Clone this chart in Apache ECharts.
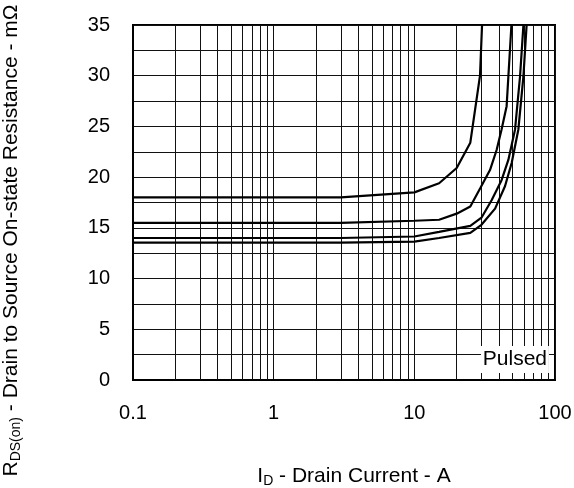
<!DOCTYPE html>
<html>
<head>
<meta charset="utf-8">
<script src="https://cdn.jsdelivr.net/npm/echarts@6/dist/echarts.min.js"></script>
<style>
html,body{margin:0;padding:0;background:#fff;}
#chart{width:574px;height:488px;}
</style>
</head>
<body>
<div id="chart"></div>
<script>
// Drain current (A) vs on-resistance (mΩ), four gate-voltage curves (top to bottom)
var curveA = [[0.1,18.0],[3,18.0],[10,18.5],[15,19.4],[20,20.9],[25,23.4],[29.3,30.0],[30.5,36]];
var curveB = [[0.1,15.5],[3,15.5],[10,15.7],[15,15.8],[20,16.4],[25,17.1],[29.4,18.9],[34.5,20.7],[38.5,22.7],[41.7,24.7],[45.3,27.0],[46.6,29.9],[49.5,36]];
var curveC = [[0.1,14.0],[3,14.0],[10,14.15],[15,14.6],[25,15.2],[30,16.0],[35.5,17.75],[41.7,19.7],[46.6,21.7],[52,24.7],[56.4,29.9],[60.3,36]];
var curveD = [[0.1,13.55],[3,13.55],[10,13.65],[15,14.0],[25,14.5],[30,15.3],[37.5,16.9],[44.1,19.1],[49.2,21.4],[54.9,24.7],[59.6,29.9],[63.5,36]];

// axis ranges and grid values
var xRange = [0.1, 100];
var yRange = [0, 35];
var yStep = 5;
var xMinorGrid = [0.2,0.3,0.4,0.5,0.6,0.7,0.8,0.9, 2,3,4,5,6,7,8,9, 20,30,40,50,60,70,80,90];

// annotation
var noteText = 'Pulsed';
var notePos = [51.9, 2.02];

var xTitle = '{a|I}{s|D}{a| - Drain Current - A}';
var yTitle = '{a|R}{s|DS(on)}{a| - Drain to Source On-state Resistance - m\u03A9}';

var FONT = '"Liberation Sans", Arial, Helvetica, sans-serif';
var richT = {
  a: {fontSize: 21, fontFamily: FONT, color: '#000', lineHeight: 24},
  s: {fontSize: 14, fontFamily: FONT, color: '#000', verticalAlign: 'bottom'}
};

function curveSeries(d) {
  return {
    type: 'line', data: d, showSymbol: false, symbol: 'none', z: 3,
    lineStyle: {color: '#000', width: 2.2}, silent: true, clip: true
  };
}

var chart = echarts.init(document.getElementById('chart'), null, {renderer: 'canvas'});
chart.setOption({
  animation: false,
  backgroundColor: '#fff',
  textStyle: {fontFamily: FONT},
  grid: {left: 133, right: 19, top: 25, bottom: 108, show: true, borderColor: '#000', borderWidth: 2,
    backgroundColor: 'transparent', containLabel: false, outerBoundsMode: 'none'},
  xAxis: {
    type: 'log', logBase: 10, min: xRange[0], max: xRange[1],
    axisLine: {show: true, lineStyle: {color: '#000', width: 2}},
    axisTick: {show: false},
    axisLabel: {color: '#000', fontSize: 20, fontFamily: FONT, margin: 23,
      formatter: function (v) { return String(+v.toPrecision(3)); }},
    splitLine: {show: true, lineStyle: {color: '#111', width: 1}},
    name: xTitle, nameLocation: 'middle', nameGap: 84,
    nameTextStyle: {rich: richT, padding: [0, 0, 0, 20]}
  },
  yAxis: {
    type: 'value', min: yRange[0], max: yRange[1], interval: yStep,
    axisLine: {show: true, lineStyle: {color: '#000', width: 2}},
    axisTick: {show: false},
    axisLabel: {color: '#000', fontSize: 20, fontFamily: FONT, margin: 23},
    splitLine: {show: true, lineStyle: {color: '#111', width: 1}},
    minorTick: {show: false, splitNumber: 2},
    minorSplitLine: {show: true, lineStyle: {color: '#111', width: 1}},
    name: yTitle, nameLocation: 'middle', nameGap: 110,
    nameTextStyle: {rich: richT, padding: [0, 76, 0, 0]}
  },
  series: [
    {
      type: 'line', data: [], z: 1, silent: true,
      markLine: {
        z: 1, silent: true, symbol: ['none', 'none'], animation: false,
        label: {show: false},
        lineStyle: {color: '#111', width: 1, type: 'solid'},
        emphasis: {disabled: true},
        data: xMinorGrid.map(function (v) { return {xAxis: v}; })
      }
    },
    curveSeries(curveA),
    curveSeries(curveB),
    curveSeries(curveC),
    curveSeries(curveD),
    {
      type: 'line', data: [], z: 10, silent: true,
      markPoint: {
        z: 10, silent: true, animation: false,
        symbol: 'rect', symbolSize: [68, 27],
        itemStyle: {color: '#fff'},
        label: {show: true, position: 'inside', color: '#000', fontSize: 21, fontFamily: FONT,
          formatter: function () { return noteText; }},
        data: [{coord: notePos, value: noteText}]
      }
    }
  ]
});
</script>
</body>
</html>
